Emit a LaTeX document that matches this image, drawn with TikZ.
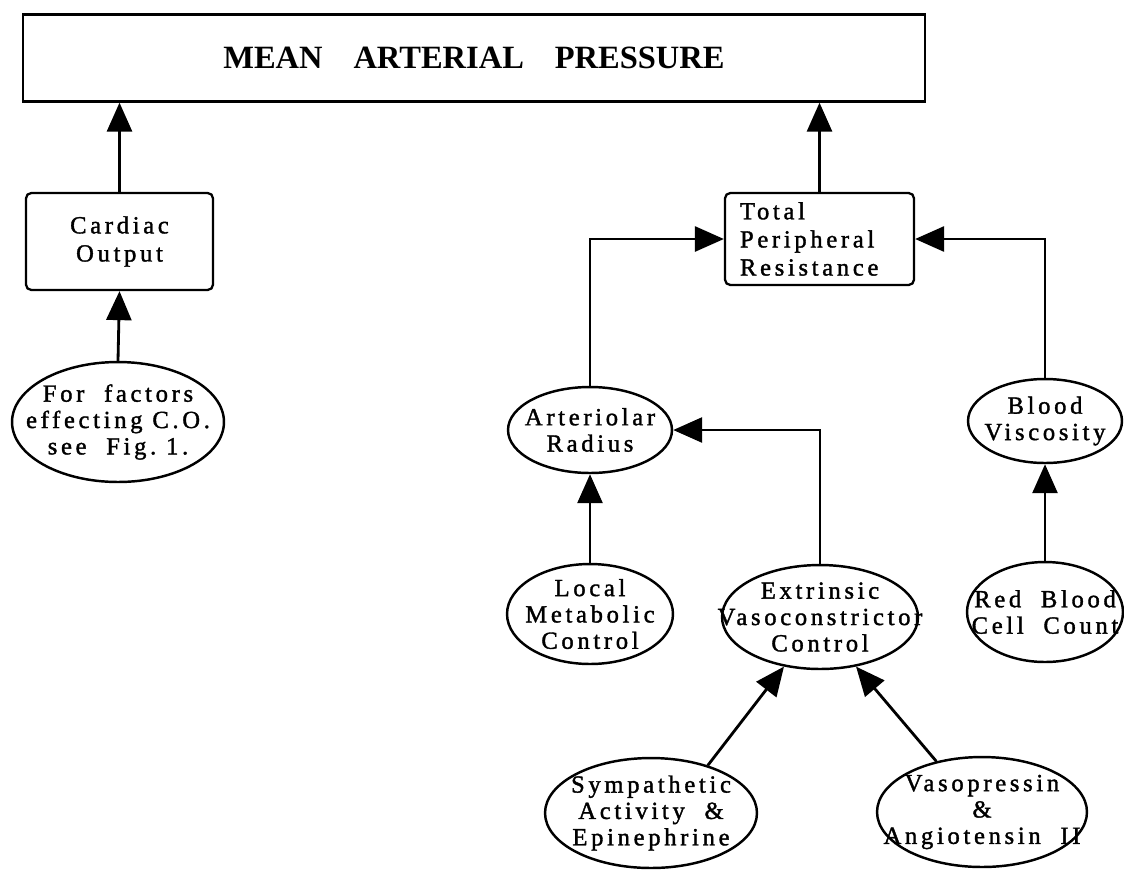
\documentclass[tikz,border=0pt]{standalone}
\usepackage{fontspec}
\setmainfont{Liberation Serif}
\newfontfamily\spacedfont[LetterSpace=15,FakeBold=1.5]{Liberation Serif}
\usetikzlibrary{shapes.geometric,arrows.meta}

\begin{document}
\begin{tikzpicture}[x=0.02cm, y=-0.02cm,
        box/.style={rectangle, draw, line width=1.3pt, rounded corners=3pt,
                    align=center, font=\spacedfont\fontsize{14}{16}\selectfont},
        oval/.style={ellipse, draw, line width=1.4pt, inner sep=0pt},
        lbl/.style={font=\spacedfont\fontsize{14}{15}\selectfont,
                    align=center, inner sep=0pt},
        arr/.style={-{Triangle[length=0.58cm, width=0.5cm]}, line width=1.6pt}
      ]
        \useasboundingbox (0,0) rectangle (1124,869);
        % boxes
        \node[box, rounded corners=0pt, minimum width=18.04cm, minimum height=1.74cm,
              font=\bfseries\fontsize{18.5}{22}\selectfont] (map) at (474,58)
              {MEAN\hspace{0.7em} ARTERIAL\hspace{0.7em} PRESSURE};
        \node[box, minimum width=3.74cm, minimum height=1.94cm] (cardiac) at (119.5,241.5)
              {Cardiac\\Output};
        \node[box, minimum height=1.84cm, text width=3.18cm, inner xsep=0.3cm,
              align=left] (tpr) at (819.5,239)
              {Total\\Peripheral\\Resistance};
        % ellipses
        \node[oval, minimum width=4.24cm, minimum height=2.4cm,
              label={[lbl]center:For\ \ factors\\effecting\ C.O.\\see\ \ Fig.\ 1.}]
              (co) at (118,422) {};
        \node[oval, minimum width=3.28cm, minimum height=1.72cm,
              label={[lbl]center:Arteriolar\\Radius}] (ar) at (590,430) {};
        \node[oval, minimum width=3.08cm, minimum height=1.68cm,
              label={[lbl]center:Blood\\Viscosity}] (bv) at (1045,421) {};
        \node[oval, minimum width=3.32cm, minimum height=2.0cm,
              label={[lbl]center:Local\\Metabolic\\Control}] (lmc) at (590,614) {};
        \node[oval, minimum width=3.92cm, minimum height=2.08cm,
              label={[lbl]center:Extrinsic\\Vasoconstrictor\\Control}] (evc) at (820,617) {};
        \node[oval, minimum width=3.12cm, minimum height=2.0cm,
              label={[lbl]center:Red\ \ Blood\\Cell\ \ Count}] (rbc) at (1045,612) {};
        \node[oval, minimum width=4.24cm, minimum height=2.2cm,
              label={[lbl]center:Sympathetic\\Activity\ \ \&\\Epinephrine}] (symp) at (651,813) {};
        \node[oval, minimum width=4.2cm, minimum height=2.2cm,
              label={[lbl]center:Vasopressin\\\&\\Angiotensin\ \ II}] (vaso) at (982,812) {};
        % connectors
        \draw[arr] (cardiac.north) -- (cardiac.north |- map.south);
        \draw[arr] (tpr.north) -- (tpr.north |- map.south);
        \draw[arr] (co.north) -- (cardiac.south);
        \draw[arr] (ar.north) |- (tpr.west);
        \draw[arr] (bv.north) |- (tpr.east);
        \draw[arr] (lmc.north) -- (ar.south);
        \draw[arr] (evc.north) |- (ar.east);
        \draw[arr] (rbc.north) -- (bv.south);
        \draw[arr] (symp.40) -- (evc.-126);
        \draw[arr] (vaso.132) -- (evc.-54);
      \end{tikzpicture}
\end{document}
